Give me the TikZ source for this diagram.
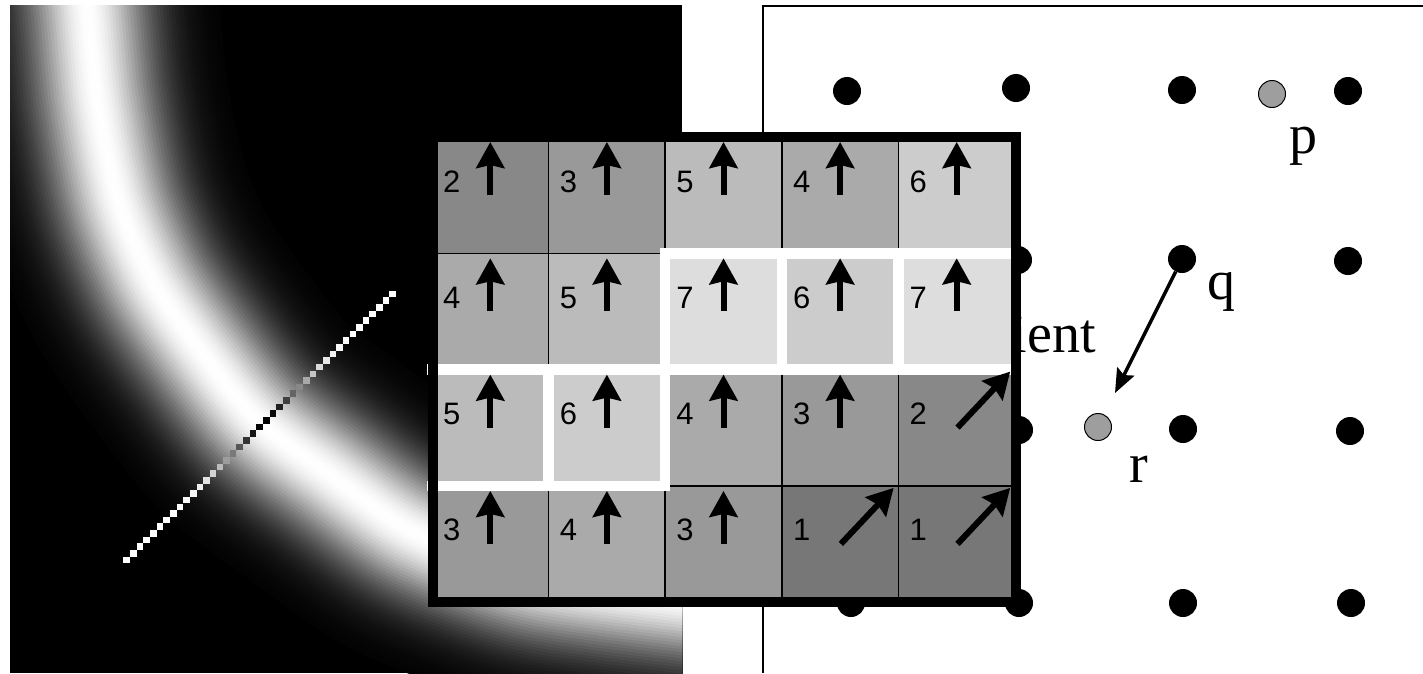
\documentclass[tikz,border=0pt]{standalone}
\usepackage{fontspec}
\setmainfont{Liberation Serif}
\newfontfamily\sansf{Liberation Sans}
\usetikzlibrary{arrows.meta}
\definecolor{g1}{gray}{0.467}
\definecolor{g2}{gray}{0.533}
\definecolor{g3}{gray}{0.600}
\definecolor{g4}{gray}{0.667}
\definecolor{g5}{gray}{0.733}
\definecolor{g6}{gray}{0.800}
\definecolor{g7}{gray}{0.867}
\definecolor{dotgray}{gray}{0.62}
\begin{document}
\begin{tikzpicture}[x=1pt,y=-1pt,
  cellbox/.style={draw=black,line width=1.5pt},
  cellnum/.style={font=\sansf\fontsize{31}{33}\selectfont, anchor=base west, inner sep=0pt},
  gradarrow/.style={line width=6pt, -{Stealth[length=26pt,width=28pt,inset=3pt]}},
  hilite/.style={draw=white, line width=10.5pt, line cap=rect},
  blackdot/.style={circle, fill=black, minimum size=28pt, inner sep=0pt},
  interdot/.style={circle, fill=dotgray, draw=black, line width=1pt, minimum size=27pt, inner sep=0pt},
  serlabel/.style={font=\fontsize{56}{60}\selectfont, inner sep=0pt},
  qrarrow/.style={line width=3.5pt, -{Stealth[length=24pt,width=19pt,inset=4pt]}},
]
\useasboundingbox (0,0) rectangle (1423,673);
\fill[white] (0,0) rectangle (1423,673);

% ---------- left panel: image with a bright curved ridge ----------
\fill[black] (10,5) rectangle (682,673);
\begin{scope}
  \clip (10,5) rectangle (682,673);
  \foreach \k in {0,...,43}{
    \pgfmathsetmacro\d{132-3*\k}
    \pgfmathsetmacro\w{2*\d}
    \pgfmathsetmacro\g{100*exp(-0.5*(\d/44)*(\d/44))}
    \draw[line width=\w pt, color=white!\g!black]
      plot[smooth] coordinates {(80,-40) (87,5) (97,100) (118,200) (152,280) (200,350)
        (257,420) (330,475) (400,525) (460,552) (540,578) (683,598) (760,606)};
  }
  % pixel line across the ridge
  \foreach \j in {0,...,40}{
    \pgfmathsetmacro\c{100*(1-exp(-((\j-20.8)*(\j-20.8))/35.3))}
    \fill[white!\c!black] ({123.4+6.65*\j},{556.7-6.65*\j}) rectangle +(6.6,6.6);
  }
\end{scope}

% ---------- right panel: lattice ----------
\draw[line width=1.5pt] (763,673) -- (763,6) -- (1423,6);
\node[blackdot] (d11) at (847,91) {};
\node[blackdot] (d12) at (1016,88) {};
\node[blackdot] (d13) at (1182,90) {};
\node[blackdot] (d14) at (1348,91) {};
\node[blackdot] (d21) at (848,261) {};
\node[blackdot] (d22) at (1018,260) {};
\node[blackdot] (q) at (1182,259) {};
\node[blackdot] (d24) at (1348,261) {};
\node[blackdot] (d31) at (849,432) {};
\node[blackdot] (d32) at (1019,430) {};
\node[blackdot] (d33) at (1183,429) {};
\node[blackdot] (d34) at (1350,431) {};
\node[blackdot] (d41) at (851,603) {};
\node[blackdot] (d42) at (1019,603) {};
\node[blackdot] (d43) at (1183,603) {};
\node[blackdot] (d44) at (1351,603) {};
\node[interdot] (p) at (1272,94) {};
\node[interdot] (r) at (1098,427) {};
\node[serlabel, anchor=base west] (plabel) at (1289,153) {p};
\node[serlabel, anchor=base west] (qlabel) at (1207,299) {q};
\node[serlabel, anchor=base west] (rlabel) at (1129,482) {r};
\node[serlabel, anchor=base east] (gradlabel) at (1096,352) {ient};
\coordinate (qtip) at (1115,393);
\draw[qrarrow] (q) -- (qtip);

% ---------- grid of gradient cells ----------
\def\gx{432}\def\gy{137}\def\sx{116.6}\def\sy{116.3}
\def\celllist{1/1/2/0, 1/2/3/0, 1/3/5/0, 1/4/4/0, 1/5/6/0,
              2/1/4/0, 2/2/5/0, 2/3/7/0, 2/4/6/0, 2/5/7/0,
              3/1/5/0, 3/2/6/0, 3/3/4/0, 3/4/3/0, 3/5/2/1,
              4/1/3/0, 4/2/4/0, 4/3/3/0, 4/4/1/1, 4/5/1/1}
\foreach \r/\c/\v/\t in \celllist{
  \pgfmathsetmacro\xl{\gx+(\c-1)*\sx}
  \pgfmathsetmacro\yt{\gy+(\r-1)*\sy}
  \filldraw[cellbox, fill=g\v] (\xl,\yt) rectangle ++(\sx,\sy);
}
% white outline of the edge cells
\draw[hilite] (1015,253.3) -- (665.2,253.3) -- (665.2,485.9) -- (432,485.9);
\draw[hilite] (432,369.6) -- (1015,369.6);
\draw[hilite] (781.8,253.3) -- (781.8,369.6);
\draw[hilite] (898.4,253.3) -- (898.4,369.6);
\draw[hilite] (548.6,369.6) -- (548.6,485.9);
% numbers and arrows
\foreach \r/\c/\v/\t in \celllist{
  \pgfmathsetmacro\xl{\gx+(\c-1)*\sx}
  \pgfmathsetmacro\yt{\gy+(\r-1)*\sy}
  \node[cellnum] (n\r\c) at (\xl+11,\yt+55) {\v};
  \coordinate (a\r\c) at (\xl+58.3+0.8*\t,\yt+58);
  \coordinate (b\r\c) at (\xl+58.3+53.5*\t,\yt+5-3*\t);
  \draw[gradarrow] (a\r\c) -- (b\r\c);
}
\draw[line width=10pt] (433,137) rectangle (1015.5,602);
\end{tikzpicture}
\end{document}
